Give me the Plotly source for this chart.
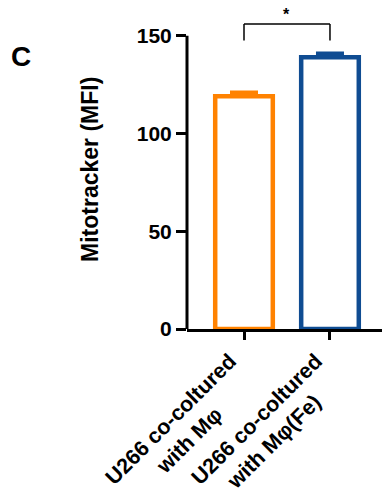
import plotly.graph_objects as go

# Mitotracker MFI of U266 cells co-cultured with macrophages
line1 = ["U266 co-coltured", "U266 co-coltured"]
line2 = ["with Mφ", "with Mφ(Fe)"]
means = [119.0, 139.0]
sems = [2.0, 2.0]
colors = ["#FF8200", "#0F4C92"]
y_ticks = [0, 50, 100, 150]
y_title = "Mitotracker (MFI)"
sig_label = "*"
sig_height = 156

x_pos = list(range(len(line1)))
FONT = "Liberation Sans, Arial, sans-serif"
NBSP = "\u00a0"

# second line padded so that both lines sit centred under each other
pads = [8, 5]
tick_text = [f"{a}<br>{b}{NBSP * p}" for a, b, p in zip(line1, line2, pads)]

fig = go.Figure()
for i, (m, e, c) in enumerate(zip(means, sems, colors)):
    fig.add_trace(go.Bar(
        x=[x_pos[i]], y=[m], width=0.67,
        marker=dict(color="white", line=dict(color=c, width=4.5)),
        error_y=dict(type="data", array=[e], arrayminus=[0], symmetric=False,
                     color=c, thickness=3.5, width=14),
        showlegend=False,
    ))

# y axis line only up to the top tick
fig.add_shape(type="line", xref="paper", yref="y", x0=0, x1=0,
              y0=y_ticks[0], y1=y_ticks[-1], line=dict(color="black", width=3))

# significance bracket
for xa, xb, ya, yb in [(x_pos[0], x_pos[0], sig_height - 8.5, sig_height),
                       (x_pos[0], x_pos[1], sig_height, sig_height),
                       (x_pos[1], x_pos[1], sig_height - 8.5, sig_height)]:
    fig.add_shape(type="line", xref="x", yref="y", x0=xa, x1=xb, y0=ya, y1=yb,
                  line=dict(color="black", width=1.5))
fig.add_annotation(x=(x_pos[0] + x_pos[1]) / 2, y=sig_height - 0.5, xref="x", yref="y",
                   text=sig_label, showarrow=False, yanchor="bottom",
                   font=dict(family=FONT, size=16, color="black", weight="bold"))

# panel letter
fig.add_annotation(x=-0.915, y=0.94, xref="paper", yref="paper", text="C",
                   showarrow=False, xanchor="left", yanchor="top",
                   font=dict(family=FONT, size=28, color="black", weight="bold"))

# y axis title
fig.add_annotation(x=-0.497, y=0.515, xref="paper", yref="paper", text=y_title,
                   textangle=-90, showarrow=False, xanchor="center", yanchor="middle",
                   font=dict(family=FONT, size=23, color="black", weight="bold"))

fig.update_layout(
    width=382, height=495,
    margin=dict(l=187, r=0, t=20, b=166, autoexpand=False),
    paper_bgcolor="white", plot_bgcolor="white",
    font=dict(family=FONT, color="black"),
    xaxis=dict(
        range=[-0.663, 1.605], tickvals=x_pos, ticktext=tick_text,
        tickangle=-45, ticks="outside", ticklen=8, tickwidth=3, tickcolor="black",
        showline=True, linewidth=3, linecolor="black", showgrid=False, zeroline=False,
        tickfont=dict(family=FONT, size=21.5, color="black", weight="bold"),
        ticklabelshift=-14,
    ),
    yaxis=dict(
        range=[0, 158], tickvals=y_ticks, ticks="outside", ticklen=10, tickwidth=3,
        tickcolor="black", showline=False, showgrid=False, zeroline=False,
        tickfont=dict(family=FONT, size=21, color="black", weight="bold"),
        ticklabelstandoff=0,
    ),
)

fig.write_html("out.html")
